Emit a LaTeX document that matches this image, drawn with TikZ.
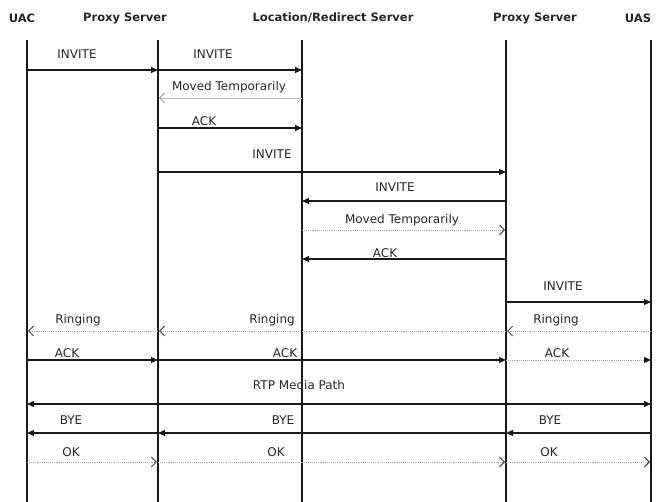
\documentclass[tikz,border=0pt]{standalone}
\usepackage{fontspec}
\setmainfont{DejaVu Sans}
\usetikzlibrary{arrows.meta}
\begin{document}
\begin{tikzpicture}[x=1pt,y=-1pt,
  header/.style={font=\fontsize{11.5}{13}\selectfont\bfseries, text=black!85, inner sep=0pt},
  lbl/.style={font=\fontsize{12}{14}\selectfont, text=black!85, inner sep=0pt},
  lifeline/.style={line width=1.3pt, black!90},
  msg/.style={line width=1.2pt, black!90, -{Triangle[length=7pt,width=6pt]}},
  reply/.style={line width=0.9pt, black!35, densely dotted, -{Straight Barb[length=5pt,width=10pt,line width=0.9pt,color=black!70]}},
  replyfaint/.style={line width=0.9pt, black!25, -{Straight Barb[length=5pt,width=10pt,line width=0.9pt,color=black!35]}},
  dotmsg/.style={line width=0.9pt, black!35, densely dotted, -{Triangle[length=7pt,width=6pt,color=black!90]}},
  both/.style={line width=1.2pt, black!90, {Triangle[length=7pt,width=6pt]}-{Triangle[length=7pt,width=6pt]}}
]
\useasboundingbox (0,0) rectangle (662,502);
\fill[white] (0,0) rectangle (662,502);

% headers
\node[header] (hUAC) at (22,18) {UAC};
\node[header] (hP1) at (125,18) {Proxy Server};
\node[header] (hLoc) at (333,18) {Location/Redirect Server};
\node[header] (hP2) at (535,18) {Proxy Server};
\node[header] (hUAS) at (638,18) {UAS};

% lifelines
\coordinate (uac) at (27,40);   \coordinate (uacB) at (27,502);
\coordinate (p1) at (158,40);   \coordinate (p1B) at (158,502);
\coordinate (loc) at (302,40);  \coordinate (locB) at (302,502);
\coordinate (p2) at (506,40);   \coordinate (p2B) at (506,502);
\coordinate (uas) at (651,40);  \coordinate (uasB) at (651,502);
\foreach \a/\b in {uac/uacB,p1/p1B,loc/locB,p2/p2B,uas/uasB}
  \draw[lifeline] (\a) -- (\b);

% message rows
\coordinate (m1) at (0,70);
\coordinate (m2) at (0,98);
\coordinate (m3) at (0,128);
\coordinate (m4) at (0,172);
\coordinate (m5) at (0,201);
\coordinate (m6) at (0,230);
\coordinate (m7) at (0,259);
\coordinate (m8) at (0,302);
\coordinate (m9) at (0,331);
\coordinate (m10) at (0,360);
\coordinate (m11) at (0,404);
\coordinate (m12) at (0,433);
\coordinate (m13) at (0,462);

\draw[msg] (uac|-m1) -- (p1|-m1);
\draw[msg] (p1|-m1) -- (loc|-m1);
\draw[replyfaint] (loc|-m2) -- ([xshift=1pt]p1|-m2);
\draw[msg] (p1|-m3) -- (loc|-m3);
\draw[msg] (p1|-m4) -- (p2|-m4);
\draw[msg] (p2|-m5) -- (loc|-m5);
\draw[reply] (loc|-m6) -- ([xshift=-1pt]p2|-m6);
\draw[msg] (p2|-m7) -- (loc|-m7);
\draw[msg] (p2|-m8) -- (uas|-m8);
\draw[reply] (uas|-m9) -- ([xshift=1pt]p2|-m9);
\draw[reply] (p2|-m9) -- ([xshift=1pt]p1|-m9);
\draw[reply] (p1|-m9) -- ([xshift=1pt]uac|-m9);
\draw[msg] (uac|-m10) -- (p1|-m10);
\draw[msg] (p1|-m10) -- (p2|-m10);
\draw[dotmsg] (p2|-m10) -- (uas|-m10);
\draw[both] (uac|-m11) -- (uas|-m11);
\draw[msg] (uas|-m12) -- (p2|-m12);
\draw[msg] (p2|-m12) -- (p1|-m12);
\draw[msg] (p1|-m12) -- (uac|-m12);
\draw[reply] (uac|-m13) -- ([xshift=-1pt]p1|-m13);
\draw[reply] (p1|-m13) -- ([xshift=-1pt]p2|-m13);
\draw[reply] (p2|-m13) -- ([xshift=-1pt]uas|-m13);

% labels
\node[lbl] (l1) at (77,54) {INVITE};
\node[lbl] (l2) at (213,54) {INVITE};
\node[lbl] (l3) at (229,87) {Moved Temporarily};
\node[lbl] (l4) at (204,121) {ACK};
\node[lbl] (l5) at (272,154) {INVITE};
\node[lbl] (l6) at (395,187) {INVITE};
\node[lbl] (l7) at (402,220) {Moved Temporarily};
\node[lbl] (l8) at (385,253) {ACK};
\node[lbl] (l9) at (563,286) {INVITE};
\node[lbl] (l10) at (556,320) {Ringing};
\node[lbl] (l11) at (272,320) {Ringing};
\node[lbl] (l12) at (78,320) {Ringing};
\node[lbl] (l13) at (67,353) {ACK};
\node[lbl] (l14) at (285,353) {ACK};
\node[lbl] (l15) at (557,353) {ACK};
\node[lbl] (l16) at (299,385) {RTP Media Path};
\node[lbl] (l17) at (71,420) {BYE};
\node[lbl] (l18) at (283,420) {BYE};
\node[lbl] (l19) at (550,420) {BYE};
\node[lbl] (l20) at (71,452) {OK};
\node[lbl] (l21) at (276,452) {OK};
\node[lbl] (l22) at (549,452) {OK};
\end{tikzpicture}
\end{document}
